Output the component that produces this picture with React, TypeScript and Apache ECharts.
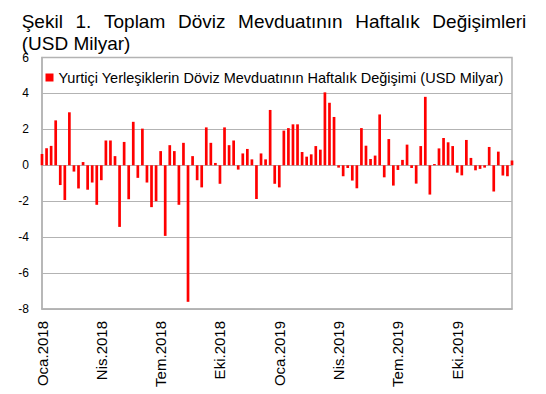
import React, { useEffect, useRef } from "react";
import * as echarts from "echarts";

// Weekly change of FX deposits of residents (USD billion), Jan 2018 - Dec 2019
const values2018: number[] = [
  0.63, 0.95, 1.08, 2.5, -1.1, -1.93, 2.95, -0.35, -1.29, 0.18, -1.36, -0.96, -2.2,
  -0.83, 1.38, 1.38, 0.51, -3.43, 1.3, -1.89, 2.42, -0.7, 2.04, -0.96, -2.33, -2.0,
  0.79, -3.93, 1.12, 0.79, -2.2, 1.25, -7.6, 0.51, -0.83, -1.23, 2.11, 1.25, 0.13,
  -1.03, 2.11, 1.12, 1.38, -0.24, 0.66, 0.91, 0.33, -1.87, 0.66, 0.33, 3.08, -1.03,
];
const values2019: number[] = [
  -1.23, 1.93, 2.07, 2.28, 2.28, 0.74, 0.48, 0.61, 1.07, 0.87, 4.06, 3.48, 2.69,
  -0.13, -0.61, -0.15, -0.85, -1.28, 2.07, 1.09, 0.35, 0.54, 2.83, -0.67, 1.46, -1.13,
  -0.26, 0.3, 1.15, -0.15, -1.02, 1.07, 3.81, -1.63, 0.07, 0.94, 1.52, 1.28, 1.07,
  -0.41, -0.56, 1.41, 0.41, -0.28, -0.2, -0.13, 1.02, -1.46, 0.76, -0.57, -0.61, 0.26,
];
const seriesValues: number[] = [...values2018, ...values2019];

// Weekly categories (Fridays)
const firstWeek = Date.UTC(2018, 0, 5);
const categories: string[] = seriesValues.map((_, i) =>
  new Date(firstWeek + i * 7 * 86400000).toISOString().slice(0, 10)
);

const tickLabels: string[] = [
  "Oca.2018", "Nis.2018", "Tem.2018", "Eki.2018",
  "Oca.2019", "Nis.2019", "Tem.2019", "Eki.2019",
];
const tickEvery = 13;

const titleWords: string[] = ["Şekil", "1.", "Toplam", "Döviz", "Mevduatının", "Haftalık", "Değişimleri"];
const titleLine2 = "(USD Milyar)";
const seriesName = "Yurtiçi Yerleşiklerin Döviz Mevduatının Haftalık Değişimi (USD Milyar)";

const FONT = "'Liberation Sans', Arial, sans-serif";
const GRAY = "#b3b3b3";

function buildTitle(): any[] {
  const fontSize = 19;
  const left = 21.7;
  const right = 526.3;
  const canvas = document.createElement("canvas");
  const ctx = canvas.getContext("2d")!;
  ctx.font = `${fontSize}px ${FONT}`;
  const widths = titleWords.map((w) => ctx.measureText(w).width);
  const total = widths.reduce((a, b) => a + b, 0);
  const gap = (right - left - total) / (titleWords.length - 1);
  const els: any[] = [];
  let x = left;
  titleWords.forEach((w, i) => {
    els.push({
      type: "text",
      x,
      y: 21.7,
      style: {
        text: w,
        fill: "#000",
        font: `${fontSize}px ${FONT}`,
        align: "left",
        verticalAlign: "middle",
      },
    });
    x += widths[i] + gap;
  });
  els.push({
    type: "text",
    x: left,
    y: 43.4,
    style: {
      text: titleLine2,
      fill: "#000",
      font: `${fontSize}px ${FONT}`,
      align: "left",
      verticalAlign: "middle",
    },
  });
  return els;
}

export default function App() {
  const ref = useRef<HTMLDivElement>(null);
  useEffect(() => {
    if (!ref.current) return;
    const chart = echarts.init(ref.current, undefined, { renderer: "svg" });
    chart.setOption({
      animation: false,
      backgroundColor: "#fff",
      graphic: buildTitle(),
      legend: {
        left: 45.5,
        top: 70,
        padding: 0,
        icon: "rect",
        itemWidth: 8,
        itemHeight: 8,
        textStyle: { fontSize: 14.5, fontFamily: FONT, color: "#000" },
        data: [seriesName],
      },
      grid: {
        left: 42,
        right: 34,
        top: 57.5,
        bottom: 85,
        show: true,
        borderColor: GRAY,
        borderWidth: 1.5,
        containLabel: false,
      },
      xAxis: {
        type: "category",
        data: categories,
        boundaryGap: false,
        axisLine: { show: true, onZero: false, lineStyle: { color: GRAY, width: 1.5 } },
        axisTick: { show: false },
        splitLine: { show: false },
        axisLabel: {
          interval: tickEvery - 1,
          rotate: 90,
          margin: 12,
          fontSize: 15,
          fontFamily: FONT,
          color: "#000",
          formatter: (_v: string, i: number) => tickLabels[i / tickEvery] ?? "",
        },
      },
      yAxis: {
        type: "value",
        min: -8,
        max: 6,
        interval: 2,
        axisLine: { show: true, lineStyle: { color: GRAY, width: 1.5 } },
        axisTick: { show: false },
        splitLine: { show: true, lineStyle: { color: GRAY, width: 1 } },
        axisLabel: { fontSize: 12, fontFamily: FONT, color: "#000", margin: 13 },
      },
      series: [
        {
          name: seriesName,
          type: "bar",
          data: seriesValues,
          barWidth: 2.7,
          clip: true,
          itemStyle: { color: "#ff0000" },
        },
      ],
    });
    return () => chart.dispose();
  }, []);
  return (
    <div
      ref={ref}
      style={{ position: "absolute", left: 0, top: 0, width: 546, height: 394 }}
    />
  );
}
